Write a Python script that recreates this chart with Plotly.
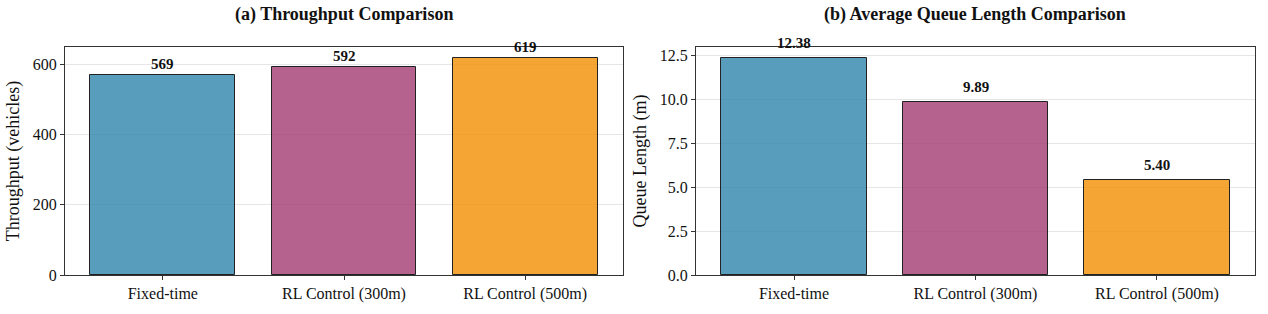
import plotly.graph_objects as go

categories = ["Fixed-time", "RL Control (300m)", "RL Control (500m)"]
throughput = [569, 592, 619]
queue_length = [12.38, 9.89, 5.40]
throughput_labels = ["569", "592", "619"]
queue_labels = ["12.38", "9.89", "5.40"]
colors = ["rgba(46,134,171,0.8)", "rgba(162,59,114,0.8)", "rgba(241,143,1,0.8)"]

W, H = 1268, 314
FONT = "Liberation Serif, Times New Roman, serif"

fig = go.Figure()
fig.add_trace(go.Bar(x=[0, 1, 2], y=throughput, width=0.8, marker=dict(color=colors, line=dict(color="#222", width=1)),
                     xaxis="x", yaxis="y", showlegend=False, hoverinfo="skip"))
fig.add_trace(go.Bar(x=[0, 1, 2], y=queue_length, width=0.8, marker=dict(color=colors, line=dict(color="#222", width=1)),
                     xaxis="x2", yaxis="y2", showlegend=False, hoverinfo="skip"))

ydom = [1 - 275 / H, 1 - 47 / H]
xax = dict(range=[-0.54, 2.54], tickmode="array", tickvals=[0, 1, 2], ticktext=categories,
           showgrid=False, zeroline=False, showline=True, mirror=True, linecolor="#333", linewidth=1,
           ticks="outside", ticklen=4, tickcolor="#333", tickfont=dict(family=FONT, size=16, color="#111"))
yax = dict(showgrid=True, gridcolor="#e6e6e6", gridwidth=1, zeroline=False, showline=True, mirror=True,
           linecolor="#333", linewidth=1, ticks="outside", ticklen=4, tickcolor="#333",
           tickfont=dict(family=FONT, size=16, color="#111"), automargin=False)

fig.update_layout(
    width=W, height=H, margin=dict(l=0, r=0, t=0, b=0), paper_bgcolor="white", plot_bgcolor="white",
    bargap=0,
    xaxis=dict(xax, domain=[65 / W, 623 / W], anchor="y", automargin=False),
    yaxis=dict(yax, domain=ydom, anchor="x", range=[0, 650], tickvals=[0, 200, 400, 600],
               title=dict(text="Throughput (vehicles)", font=dict(family=FONT, size=18, color="#111"), standoff=8)),
    xaxis2=dict(xax, domain=[696 / W, 1255 / W], anchor="y2", automargin=False),
    yaxis2=dict(yax, domain=ydom, anchor="x2", range=[0, 13.0], tickvals=[0, 2.5, 5, 7.5, 10, 12.5],
                tickformat=".1f",
                title=dict(text="Queue Length (m)", font=dict(family=FONT, size=18, color="#111"), standoff=8)),
)

annotations = []
for i, (v, t) in enumerate(zip(throughput, throughput_labels)):
    annotations.append(dict(x=i, y=v, xref="x", yref="y", text="<b>%s</b>" % t, showarrow=False,
                            xanchor="center", yanchor="bottom", yshift=1, font=dict(family=FONT, size=15, color="#111")))
for i, (v, t) in enumerate(zip(queue_length, queue_labels)):
    annotations.append(dict(x=i, y=v, xref="x2", yref="y2", text="<b>%s</b>" % t, showarrow=False,
                            xanchor="center", yanchor="bottom", yshift=5, font=dict(family=FONT, size=15, color="#111")))
annotations.append(dict(x=344 / W, y=1 - 15 / H, xref="paper", yref="paper", text="<b>(a) Throughput Comparison</b>",
                        showarrow=False, xanchor="center", yanchor="middle", font=dict(family=FONT, size=18, color="#111")))
annotations.append(dict(x=975 / W, y=1 - 15 / H, xref="paper", yref="paper", text="<b>(b) Average Queue Length Comparison</b>",
                        showarrow=False, xanchor="center", yanchor="middle", font=dict(family=FONT, size=18, color="#111")))
fig.update_layout(annotations=annotations)

fig.write_html("out.html", config={"displayModeBar": False},
               post_script="document.body.style.margin='0';document.body.style.overflow='hidden';")
